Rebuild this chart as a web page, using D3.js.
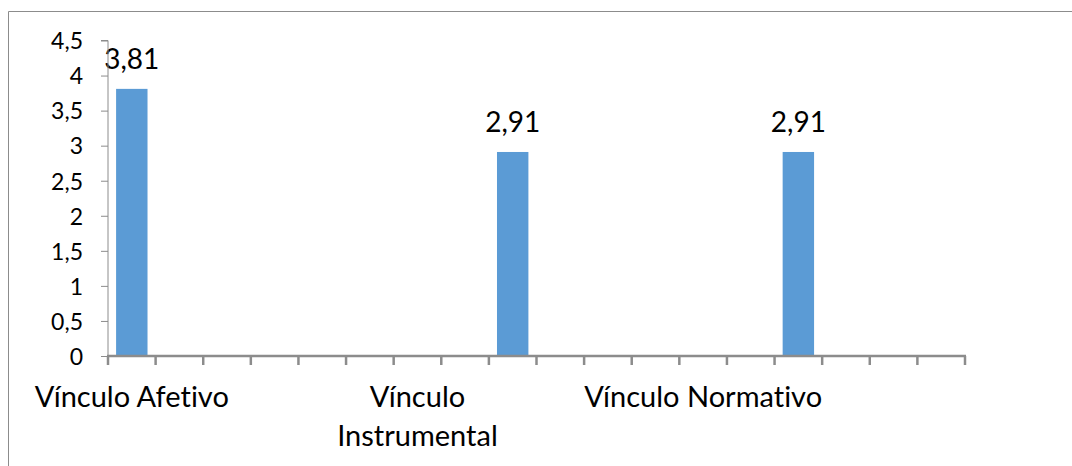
<!DOCTYPE html>
<html><head><meta charset="utf-8">
<script src="https://cdn.jsdelivr.net/npm/d3@7"></script>
<style>body{margin:0;background:#fff;} svg text{font-family:Lato, "Open Sans", sans-serif;fill:#000;font-variant-ligatures:none;font-feature-settings:"liga" 0;}</style>
</head><body><svg id="c" width="1072" height="466"></svg>
<script>
const categories = ["Vínculo Afetivo","","","","","","Vínculo Instrumental","","","","","","Vínculo Normativo","","","","",""];
const values = [3.81,null,null,null,null,null,null,null,2.91,null,null,null,null,null,2.91,null,null,null];
const valueLabels = ["3,81","","","","","","","","2,91","","","","","","2,91","","",""];
const yTicks = [0,0.5,1,1.5,2,2.5,3,3.5,4,4.5];
const yTickLabels = ["0","0,5","1","1,5","2","2,5","3","3,5","4","4,5"];

(function(){
const svg = d3.select("#c");
const W=1072,H=466;
svg.append("path").attr("d",`M8.5,${H}V11.5H${W}`).attr("fill","none").attr("stroke","#8c8c8c").attr("stroke-width",1);

const pl=108, pr=965, pt=40.5, pb=356;
const idx = d3.range(categories.length);
const x = d3.scaleBand().domain(idx).range([pl,pr]).paddingInner(0.34).paddingOuter(0.17);
const xs = d3.scaleBand().domain(idx).range([pl,pr]);
const y = d3.scaleLinear().domain([0,4.5]).range([pb,pt]);

const data = idx.filter(i=>values[i]!=null);
svg.selectAll("rect.bar").data(data).enter().append("rect")
  .attr("x",i=>x(i)).attr("width",x.bandwidth())
  .attr("y",i=>y(values[i])).attr("height",i=>pb-y(values[i]))
  .attr("fill","#5b9bd5");
svg.selectAll("text.vl").data(data).enter().append("text")
  .attr("x",i=>xs(i)+xs.bandwidth()/2).attr("y",i=>y(values[i])-20)
  .attr("text-anchor","middle").attr("font-size",28).text(i=>valueLabels[i]);

const yAxis = d3.axisLeft(y).tickValues(yTicks).tickFormat((d,i)=>yTickLabels[i]).tickSize(7).tickPadding(18);
const gy = svg.append("g").attr("transform",`translate(${pl},0)`).call(yAxis);
gy.select(".domain").attr("stroke","#8c8c8c").attr("d",`M-7,${pt}H0V${pb}`);
gy.selectAll(".tick line").attr("stroke","#8c8c8c");
gy.selectAll(".tick text").attr("font-size",23).attr("font-family","Lato, sans-serif").attr("dy","0.36em");

const gx = svg.append("g").attr("transform",`translate(0,${pb})`);
gx.append("line").attr("x1",pl-1).attr("x2",pr+1).attr("y1",0).attr("y2",0).attr("stroke","#8c8c8c").attr("stroke-width",2.5);
const tickPos = idx.map(i=>xs(i)).concat([pr]);
gx.selectAll("line.t").data(tickPos).enter().append("line")
  .attr("x1",d=>d).attr("x2",d=>d).attr("y1",0).attr("y2",9).attr("stroke","#8c8c8c").attr("stroke-width",2.5);

idx.filter(i=>categories[i]).forEach(i=>{
  const cx = xs(i)+xs.bandwidth()/2;
  const t = svg.append("text").attr("x",cx).attr("y",pb+51).attr("text-anchor","middle").attr("font-size",29);
  if(categories[i]==="Vínculo Instrumental"){
    t.append("tspan").attr("x",cx).text("Vínculo");
    t.append("tspan").attr("x",cx).attr("dy",39).text("Instrumental");
  } else t.text(categories[i]);
});
})();
</script></body></html>
